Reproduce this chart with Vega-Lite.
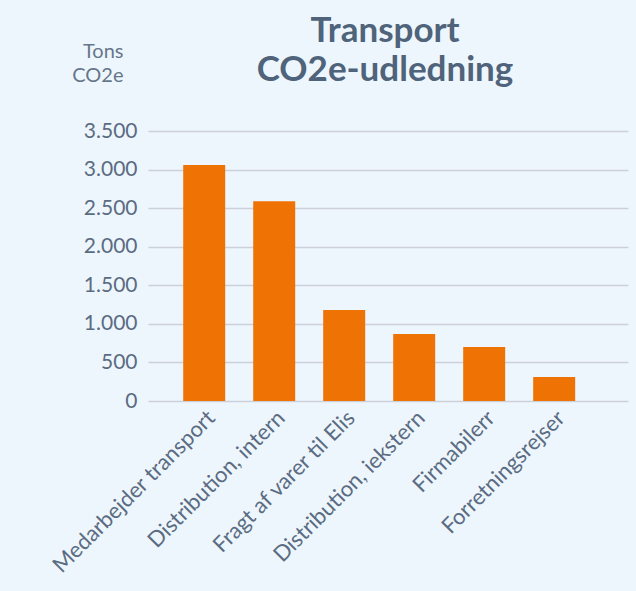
{
  "$schema": "https://vega.github.io/schema/vega-lite/v6.json",
  "width": 480,
  "height": 270,
  "autosize": "none",
  "padding": {"left": 148, "top": 131, "right": 8, "bottom": 190},
  "background": "#eef6fd",
  "title": {
    "text": ["Transport", "CO2e-udledning"],
    "font": "Lato",
    "fontSize": 35,
    "fontWeight": "bold",
    "color": "#4f637a",
    "anchor": "middle",
    "frame": "group",
    "lineHeight": 39,
    "offset": 36,
    "dy": 83,
    "dx": -3
  },
  "data": {
    "values": [
      {"kategori": "Medarbejder transport", "tons": 3060},
      {"kategori": "Distribution, intern", "tons": 2590},
      {"kategori": "Fragt af varer til Elis", "tons": 1180},
      {"kategori": "Distribution, iekstern", "tons": 870},
      {"kategori": "Firmabilerr", "tons": 700},
      {"kategori": "Forretningsrejser", "tons": 310}
    ]
  },
  "mark": {"type": "bar", "color": "#ef7304"},
  "encoding": {
    "x": {
      "field": "kategori",
      "type": "nominal",
      "sort": null,
      "scale": {"paddingInner": 0.4, "paddingOuter": 0.629, "align": 0.4},
      "axis": {
        "title": null,
        "labelAngle": -45,
        "labelFont": "Lato",
        "labelFontSize": 22,
        "labelColor": "#5b6c82",
        "labelPadding": 6,
        "labelLimit": 400,
        "domain": false,
        "ticks": false,
        "grid": false
      }
    },
    "y": {
      "field": "tons",
      "type": "quantitative",
      "scale": {"domain": [0, 3500], "nice": false},
      "axis": {
        "values": [0, 500, 1000, 1500, 2000, 2500, 3000, 3500],
        "labelExpr": "replace(format(datum.value, ',d'), ',', '.')",
        "labelFont": "Lato",
        "labelFontSize": 21,
        "labelColor": "#5b6c82",
        "labelPadding": 11,
        "domain": false,
        "ticks": false,
        "grid": true,
        "gridColor": "#cbd0da",
        "gridWidth": 1.5,
        "title": ["Tons", "CO2e"],
        "titleFont": "Lato",
        "titleFontSize": 20,
        "titleFontWeight": "normal",
        "titleColor": "#66768a",
        "titleAngle": 0,
        "titleAlign": "right",
        "titleBaseline": "top",
        "titleX": -25,
        "titleY": -90,
        "titleLineHeight": 24
      }
    }
  },
  "config": {"view": {"stroke": null}}
}
